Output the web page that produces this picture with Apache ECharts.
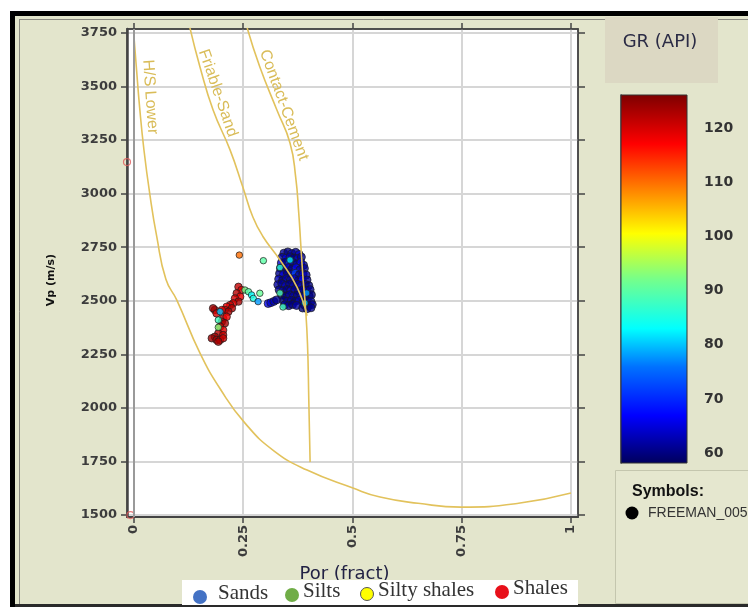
<!DOCTYPE html>
<html>
<head>
<meta charset="utf-8">
<script src="https://cdn.jsdelivr.net/npm/echarts@6/dist/echarts.min.js"></script>
<style>
html, body { margin: 0; padding: 0; background: #fff; }
#chart { width: 748px; height: 607px; }
</style>
</head>
<body>
<div id="chart"></div>
<script>
// Porosity (fraction) vs P-wave velocity (m/s), samples coloured by gamma ray (API)
const porTicks = [0, 0.25, 0.5, 0.75, 1];
const vpTicks = [1500, 1750, 2000, 2250, 2500, 2750, 3000, 3250, 3500, 3750];
const grTicks = [60, 70, 80, 90, 100, 110, 120];

// Rock-physics template curves: [porosity, Vp]
const hsLower = [
  [0.000, 3730], [0.005, 3600], [0.013, 3400], [0.023, 3200], [0.036, 3000],
  [0.052, 2800], [0.073, 2600], [0.098, 2503], [0.151, 2256], [0.200, 2080],
  [0.254, 1929], [0.320, 1800], [0.396, 1710], [0.501, 1626], [0.563, 1584],
  [0.650, 1555], [0.748, 1537], [0.880, 1555], [1.000, 1603]
];
const friableSand = [
  [0.128, 3773], [0.151, 3591], [0.181, 3390], [0.220, 3203], [0.249, 3031],
  [0.272, 2891], [0.295, 2800], [0.334, 2690], [0.373, 2564], [0.396, 2430]
];
const contactCement = [
  [0.259, 3773], [0.288, 3591], [0.327, 3390], [0.357, 3236], [0.370, 3077],
  [0.377, 2909], [0.382, 2751], [0.387, 2600], [0.392, 2480], [0.397, 2300],
  [0.400, 2037], [0.403, 1747]
];

// Well samples: [porosity, Vp, GR]
const sandPoints = [
  [0.343, 2722, 62], [0.352, 2728, 60], [0.361, 2720, 63], [0.370, 2726, 61], [0.378, 2716, 64],
  [0.339, 2703, 61], [0.348, 2698, 66], [0.357, 2705, 62], [0.366, 2700, 60], [0.375, 2697, 63], [0.383, 2704, 61],
  [0.337, 2676, 64], [0.346, 2680, 60], [0.355, 2672, 70], [0.364, 2678, 62], [0.373, 2671, 61], [0.382, 2679, 65], [0.388, 2666, 62],
  [0.335, 2652, 62], [0.344, 2646, 61], [0.353, 2655, 63], [0.362, 2649, 60], [0.371, 2654, 66], [0.380, 2645, 62], [0.390, 2651, 61],
  [0.333, 2627, 61], [0.342, 2622, 65], [0.351, 2630, 60], [0.360, 2624, 62], [0.369, 2628, 72], [0.378, 2621, 61], [0.387, 2626, 63], [0.394, 2620, 62],
  [0.331, 2601, 63], [0.340, 2596, 60], [0.349, 2604, 62], [0.358, 2598, 61], [0.367, 2603, 64], [0.376, 2595, 60], [0.385, 2600, 66], [0.396, 2597, 61],
  [0.329, 2575, 62], [0.338, 2580, 61], [0.347, 2571, 63], [0.356, 2578, 60], [0.365, 2572, 62], [0.374, 2577, 61], [0.383, 2570, 64], [0.392, 2576, 62], [0.400, 2571, 60],
  [0.332, 2551, 61], [0.341, 2546, 62], [0.350, 2553, 60], [0.359, 2547, 63], [0.368, 2552, 61], [0.377, 2545, 62], [0.386, 2550, 60], [0.395, 2546, 65], [0.403, 2552, 61],
  [0.338, 2526, 62], [0.347, 2521, 60], [0.356, 2528, 61], [0.365, 2522, 62], [0.374, 2527, 60], [0.383, 2520, 63], [0.392, 2525, 61], [0.401, 2521, 62], [0.406, 2528, 60],
  [0.342, 2501, 60], [0.351, 2497, 62], [0.360, 2503, 61], [0.369, 2498, 60], [0.378, 2502, 62], [0.387, 2496, 61], [0.396, 2500, 60], [0.405, 2496, 62],
  [0.345, 2481, 62], [0.354, 2477, 61], [0.363, 2483, 60], [0.372, 2478, 62], [0.390, 2480, 61], [0.399, 2476, 60], [0.408, 2482, 61],
  [0.386, 2466, 60], [0.396, 2463, 62], [0.405, 2467, 61],
  [0.307, 2487, 66], [0.313, 2491, 64], [0.320, 2497, 63], [0.326, 2504, 61]
];
const shalePoints = [
  [0.239, 2565, 121], [0.246, 2550, 119], [0.235, 2535, 122], [0.243, 2519, 118], [0.231, 2511, 120],
  [0.239, 2496, 123], [0.227, 2488, 119], [0.220, 2480, 121], [0.212, 2472, 118], [0.224, 2465, 122],
  [0.208, 2457, 120], [0.216, 2449, 123], [0.201, 2457, 119], [0.185, 2457, 121], [0.181, 2465, 124],
  [0.189, 2441, 120], [0.204, 2418, 122], [0.212, 2425, 118], [0.201, 2402, 121], [0.208, 2395, 123],
  [0.197, 2379, 120], [0.204, 2363, 119], [0.193, 2348, 122], [0.204, 2340, 121], [0.185, 2332, 123],
  [0.178, 2325, 124], [0.189, 2317, 122], [0.197, 2317, 120], [0.204, 2325, 121], [0.193, 2309, 123]
];
const mixedPoints = [
  [0.254, 2550, 92], [0.262, 2542, 90], [0.269, 2527, 83], [0.273, 2511, 85], [0.284, 2496, 78],
  [0.288, 2535, 91], [0.197, 2449, 80], [0.193, 2410, 88], [0.193, 2376, 93], [0.296, 2687, 90],
  [0.241, 2713, 110], [0.334, 2655, 86], [0.357, 2690, 82], [0.334, 2536, 89], [0.395, 2536, 78],
  [0.341, 2471, 88], [0.391, 2489, 80]
];
const edgePoints = [[-0.016, 3147, 119], [-0.008, 1500, 120]];

// GR colour scale: anchor values and their colours
const grScale = [58.2, 67, 76, 83, 92, 100.5, 108.5, 117, 126.1];
const grColors = ['#00005c', '#0000ff', '#0072ff', '#00ffff', '#74ff8c', '#ffff00', '#ff8400', '#ff0000', '#7d0000'];
const grMin = grScale[0], grMax = grScale[grScale.length - 1];

const legendNames = ['Sands', 'Silts', 'Silty shales', 'Shales'];
const legendColors = ['#4472c4', '#70ad47', '#ffff00', '#e8101a'];

function hexToRgb(h) {
  return [parseInt(h.slice(1, 3), 16), parseInt(h.slice(3, 5), 16), parseInt(h.slice(5, 7), 16)];
}
function grColor(v) {
  const x = Math.max(grMin, Math.min(grMax, v));
  for (let i = 0; i < grScale.length - 1; i++) {
    if (x <= grScale[i + 1]) {
      const t = (x - grScale[i]) / (grScale[i + 1] - grScale[i]);
      const a = hexToRgb(grColors[i]), b = hexToRgb(grColors[i + 1]);
      const c = a.map((ch, k) => Math.round(ch + (b[k] - ch) * t));
      return 'rgb(' + c.join(',') + ')';
    }
  }
  return grColors[grColors.length - 1];
}

const chart = echarts.init(document.getElementById('chart'), null, { renderer: 'canvas' });

const tickFont = { fontFamily: 'DejaVu Sans', fontWeight: 'bold', fontSize: 13, color: '#3c3c3c' };
const curveColor = '#e2c25c';

function curveSeries(name, data) {
  return {
    name: name, type: 'line', data: data, xAxisIndex: 0, yAxisIndex: 0,
    showSymbol: false, symbol: 'none', smooth: 0.5, clip: false, z: 4,
    lineStyle: { color: curveColor, width: 1.6 }, silent: true
  };
}
function pointSeries(name, data, size, z) {
  return {
    name: name, type: 'scatter', data: data, xAxisIndex: 0, yAxisIndex: 0,
    symbolSize: size, z: z,
    itemStyle: {
      color: p => grColor(p.value[2]),
      borderColor: '#1c1c1c', borderWidth: 0.9
    }
  };
}

const option = {
  animation: false,
  backgroundColor: '#e3e5cc',
  grid: [
    { left: 127, right: 170, top: 29, bottom: 90, show: true, backgroundColor: '#ffffff', borderColor: '#4a4a4a', borderWidth: 1.5 },
    { left: 621, top: 95, width: 66, height: 368, show: false }
  ],
  xAxis: [
    {
      gridIndex: 0, type: 'value', position: 'bottom', min: -0.016, max: 1.016,
      name: 'Por (fract)', nameLocation: 'middle', nameGap: 48,
      nameTextStyle: { fontFamily: 'DejaVu Sans', fontSize: 18, color: '#222244', padding: [0, 16, 0, 0] },
      axisLine: { show: true, onZero: false, lineStyle: { color: '#444', width: 2 } },
      axisTick: { show: true, customValues: porTicks, length: 6, lineStyle: { color: '#444', width: 1.5 } },
      axisLabel: Object.assign({ customValues: porTicks, rotate: 90, margin: 8, formatter: v => String(v) }, tickFont),
      splitLine: { show: true, lineStyle: { color: '#d6d6d6', width: 2 } }
    },
    {
      gridIndex: 0, type: 'value', position: 'top', min: -0.016, max: 1.016,
      axisLine: { show: true, onZero: false, lineStyle: { color: '#444', width: 1.5 } },
      axisTick: { show: true, customValues: porTicks, length: 6, lineStyle: { color: '#444', width: 1.5 } },
      axisLabel: { show: false }, splitLine: { show: false }
    },
    { gridIndex: 1, type: 'value', min: 0, max: 1, show: false }
  ],
  yAxis: [
    {
      gridIndex: 0, type: 'value', position: 'left', min: 1491, max: 3768,
      name: 'Vp (m/s)', nameLocation: 'middle', nameGap: 70, nameRotate: 90,
      nameTextStyle: { fontFamily: 'DejaVu Sans', fontWeight: 'bold', fontSize: 11, color: '#111', padding: [0, 14, 0, 0] },
      axisLine: { show: true, onZero: false, lineStyle: { color: '#444', width: 2.5 } },
      axisTick: { show: true, customValues: vpTicks, length: 6, lineStyle: { color: '#444', width: 1.5 } },
      axisLabel: Object.assign({ customValues: vpTicks, margin: 10, formatter: v => String(v) }, tickFont),
      splitLine: { show: true, lineStyle: { color: '#d6d6d6', width: 2 } }
    },
    {
      gridIndex: 0, type: 'value', position: 'right', min: 1491, max: 3768,
      axisLine: { show: true, onZero: false, lineStyle: { color: '#444', width: 1.5 } },
      axisTick: { show: true, customValues: vpTicks, length: 7, lineStyle: { color: '#444', width: 1.5 } },
      axisLabel: { show: false }, splitLine: { show: false }
    },
    {
      gridIndex: 1, type: 'value', position: 'right', offset: 7, min: grMin, max: grMax,
      axisLine: { show: true, lineStyle: { color: '#7a7a7a', width: 2 } },
      axisTick: { show: true, customValues: grTicks, length: 5, lineStyle: { color: '#555', width: 1.5 } },
      axisLabel: Object.assign({ customValues: grTicks, margin: 10, formatter: v => String(v) }, tickFont, { fontSize: 14, color: '#333' }),
      splitLine: { show: false }
    }
  ],
  series: [
    pointSeries('sands', sandPoints, 8, 2),
    pointSeries('shales', shalePoints, 7.5, 2),
    pointSeries('mixed', mixedPoints, 6.5, 2),
    {
      name: 'edge', type: 'scatter', data: edgePoints, xAxisIndex: 0, yAxisIndex: 0,
      symbolSize: 7, clip: false, z: 3,
      itemStyle: { color: 'rgba(0,0,0,0)', borderColor: '#e05a5a', borderWidth: 1.2 },
      markLine: {
        silent: true, symbol: 'none', label: { show: false },
        lineStyle: { color: '#9a9a9a', width: 2, type: 'solid' },
        data: [{ xAxis: 0 }]
      }
    },
    curveSeries('H/S Lower', hsLower),
    curveSeries('Friable-Sand', friableSand),
    curveSeries('Contact-Cement', contactCement)
  ]
};

chart.setOption(option);

// Curve captions, anchored in data space along each curve
const curveLabels = [
  { text: 'H/S Lower', at: [0.037, 3451], angle: 86 },
  { text: 'Friable-Sand', at: [0.192, 3469], angle: 71 },
  { text: 'Contact-Cement', at: [0.343, 3413], angle: 70 }
];
const captionEls = curveLabels.map(c => {
  const p = chart.convertToPixel({ xAxisIndex: 0, yAxisIndex: 0 }, c.at);
  return {
    type: 'text', x: p[0], y: p[1], rotation: -c.angle * Math.PI / 180, z: 20,
    style: { text: c.text, fill: '#d9bc58', font: '16px "Liberation Sans", Arial, sans-serif', align: 'center', verticalAlign: 'middle' }
  };
});

// Colour bar gradient built from the GR scale
const barStops = grScale.map((v, i) => ({ offset: (v - grMin) / (grMax - grMin), color: grColors[i] }));

// Category legend along the bottom
const legendX = [200, 292, 367, 502];
const legendTextX = [218, 303, 378, 513];
const legendY = [597, 595, 594, 592];
const legendEls = [{ type: 'rect', shape: { x: 182, y: 580, width: 396, height: 25 }, style: { fill: '#ffffff' }, z: 10 }];
legendNames.forEach((n, i) => {
  legendEls.push({
    type: 'circle', shape: { cx: legendX[i], cy: legendY[i], r: i === 2 ? 6.5 : 7 }, z: 11,
    style: { fill: legendColors[i], stroke: i === 2 ? '#555' : null, lineWidth: 1 }
  });
  legendEls.push({
    type: 'text', x: legendTextX[i], y: legendY[i] - 4, z: 11,
    style: { text: n, fill: '#333', font: '21px "Liberation Serif", "Times New Roman", serif', align: 'left', verticalAlign: 'middle' }
  });
});

const frameEls = [
  { type: 'rect', shape: { x: 0, y: 0, width: 748, height: 11 }, style: { fill: '#fff' }, z: 1 },
  { type: 'rect', shape: { x: 0, y: 0, width: 10, height: 607 }, style: { fill: '#fff' }, z: 1 },
  { type: 'rect', shape: { x: 10, y: 11, width: 738, height: 5 }, style: { fill: '#000' }, z: 1 },
  { type: 'rect', shape: { x: 10, y: 11, width: 5, height: 596 }, style: { fill: '#000' }, z: 1 },
  { type: 'rect', shape: { x: 15, y: 604, width: 733, height: 3 }, style: { fill: '#2a2a2a' }, z: 1 },
  { type: 'line', shape: { x1: 19.5, y1: 19, x2: 19.5, y2: 604 }, style: { stroke: '#8a8a80', lineWidth: 1 }, z: 1 },
  { type: 'line', shape: { x1: 19, y1: 19.5, x2: 748, y2: 19.5 }, style: { stroke: '#8a8a80', lineWidth: 1 }, z: 1 }
];

const sideEls = [
  { type: 'rect', shape: { x: 605, y: 17, width: 113, height: 66 }, style: { fill: '#dcd8c3' }, z: 1 },
  { type: 'text', x: 660, y: 42, z: 2, style: { text: 'GR (API)', fill: '#2b2b45', font: '18px "DejaVu Sans", sans-serif', align: 'center', verticalAlign: 'middle' } },
  {
    type: 'rect', shape: { x: 621, y: 95, width: 66, height: 368 }, z: 2,
    style: { fill: { type: 'linear', x: 0, y: 1, x2: 0, y2: 0, colorStops: barStops }, stroke: '#333', lineWidth: 1 }
  },
  { type: 'rect', shape: { x: 615.5, y: 470.5, width: 140, height: 133 }, style: { fill: '#e5e7cf', stroke: '#c4c6ae', lineWidth: 1 }, z: 1 },
  { type: 'text', x: 632, y: 492, z: 2, style: { text: 'Symbols:', fill: '#111', font: 'bold 16px "Liberation Sans", Arial, sans-serif', align: 'left', verticalAlign: 'middle' } },
  { type: 'circle', shape: { cx: 632, cy: 513, r: 6.5 }, style: { fill: '#000' }, z: 2 },
  { type: 'text', x: 648, y: 513, z: 2, style: { text: 'FREEMAN_005', fill: '#333', font: '14px "Liberation Sans", Arial, sans-serif', align: 'left', verticalAlign: 'middle' } }
];

chart.setOption({ graphic: frameEls.concat(sideEls, captionEls, legendEls) });
</script>
</body>
</html>
